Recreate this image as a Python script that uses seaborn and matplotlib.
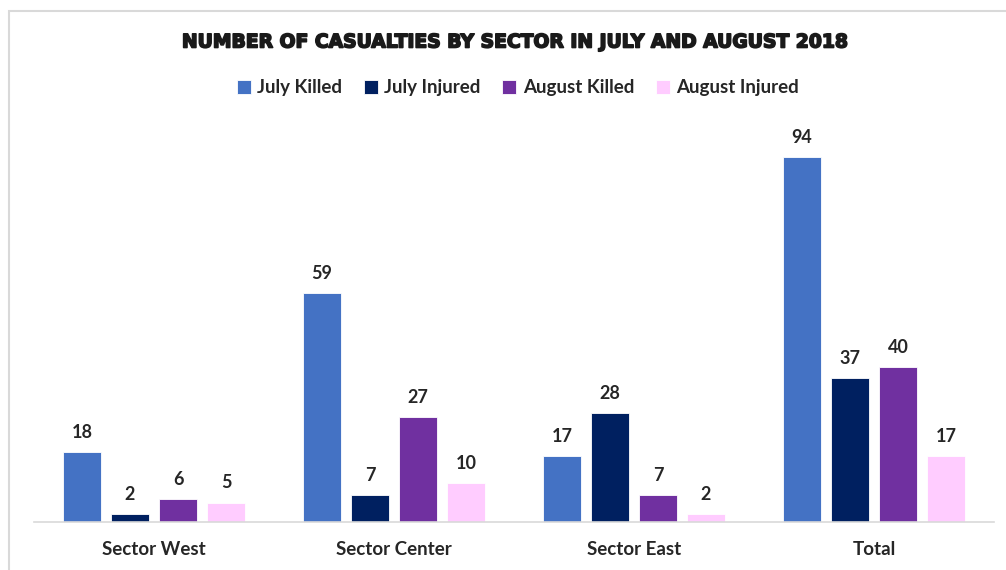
import matplotlib
matplotlib.use("Agg")
import matplotlib.pyplot as plt
import matplotlib.patheffects as pe
import seaborn as sns
import pandas as pd
from matplotlib.patches import Rectangle

categories = ["Sector West", "Sector Center", "Sector East", "Total"]
series = ["July Killed", "July Injured", "August Killed", "August Injured"]
july_killed = [18, 59, 17, 94]
july_injured = [2, 7, 28, 37]
august_killed = [6, 27, 7, 40]
august_injured = [5, 10, 2, 17]
colors = ["#4472C4", "#002060", "#7030A0", "#FFCCFF"]

rows = []
for s, vals in zip(series, [july_killed, july_injured, august_killed, august_injured]):
    for c, v in zip(categories, vals):
        rows.append({"Sector": c, "Series": s, "Value": v})
df = pd.DataFrame(rows)

sns.set_theme(style="white")
plt.rcParams["font.family"] = ["Lato", "DejaVu Sans"]

fig = plt.figure(figsize=(10.06, 5.70), dpi=100)
ax = fig.add_axes([34/1006, 48/570, 960/1006, (522-133.7)/570])

sns.barplot(data=df, x="Sector", y="Value", hue="Series", order=categories,
            hue_order=series, palette=colors, saturation=1, width=0.8, gap=0.2,
            edgecolor="white", linewidth=0.6, ax=ax, legend=True)

ax.set_ylim(0, 100)
ax.set_xlim(-0.5, 3.5)
ax.set_xlabel("")
ax.set_ylabel("")
ax.set_yticks([])
for s in ["left", "right", "top"]:
    ax.spines[s].set_visible(False)
ax.spines["bottom"].set_color("#d9d9d9")
ax.spines["bottom"].set_linewidth(1.2)
ax.tick_params(axis="x", length=0, pad=14)
ax.set_xticks(range(len(categories)))
ax.set_xticklabels(categories, fontsize=13.5, fontweight="bold", color="#262626")

for cont in ax.containers:
    ax.bar_label(cont, padding=8, fontsize=13, fontweight="bold", color="#262626")

handles, labels = ax.get_legend_handles_labels()
ax.legend_.remove()
fig.legend(handles, labels, loc="center", bbox_to_anchor=(518/1006, 1-88/570),
           ncol=4, frameon=False, prop={"weight": "bold", "size": 13.5},
           handlelength=0.75, handleheight=0.75, handletextpad=0.35, columnspacing=1.15,
           labelcolor="#262626")

fig.text(515/1006, 1-42/570, "NUMBER OF CASUALTIES BY SECTOR IN JULY AND AUGUST 2018",
         ha="center", va="center", fontsize=13.5, fontweight="heavy",
         family=["DejaVu Sans"], color="#1a1a1a",
         path_effects=[pe.withStroke(linewidth=1.2, foreground="#1a1a1a")])

fig.patches.append(Rectangle((9/1006, -0.1), 1.2, 1.1 - 11/570, transform=fig.transFigure,
                             fill=False, edgecolor="#d9d9d9", linewidth=1.5, zorder=0))

fig.savefig("out.png", dpi=100)
